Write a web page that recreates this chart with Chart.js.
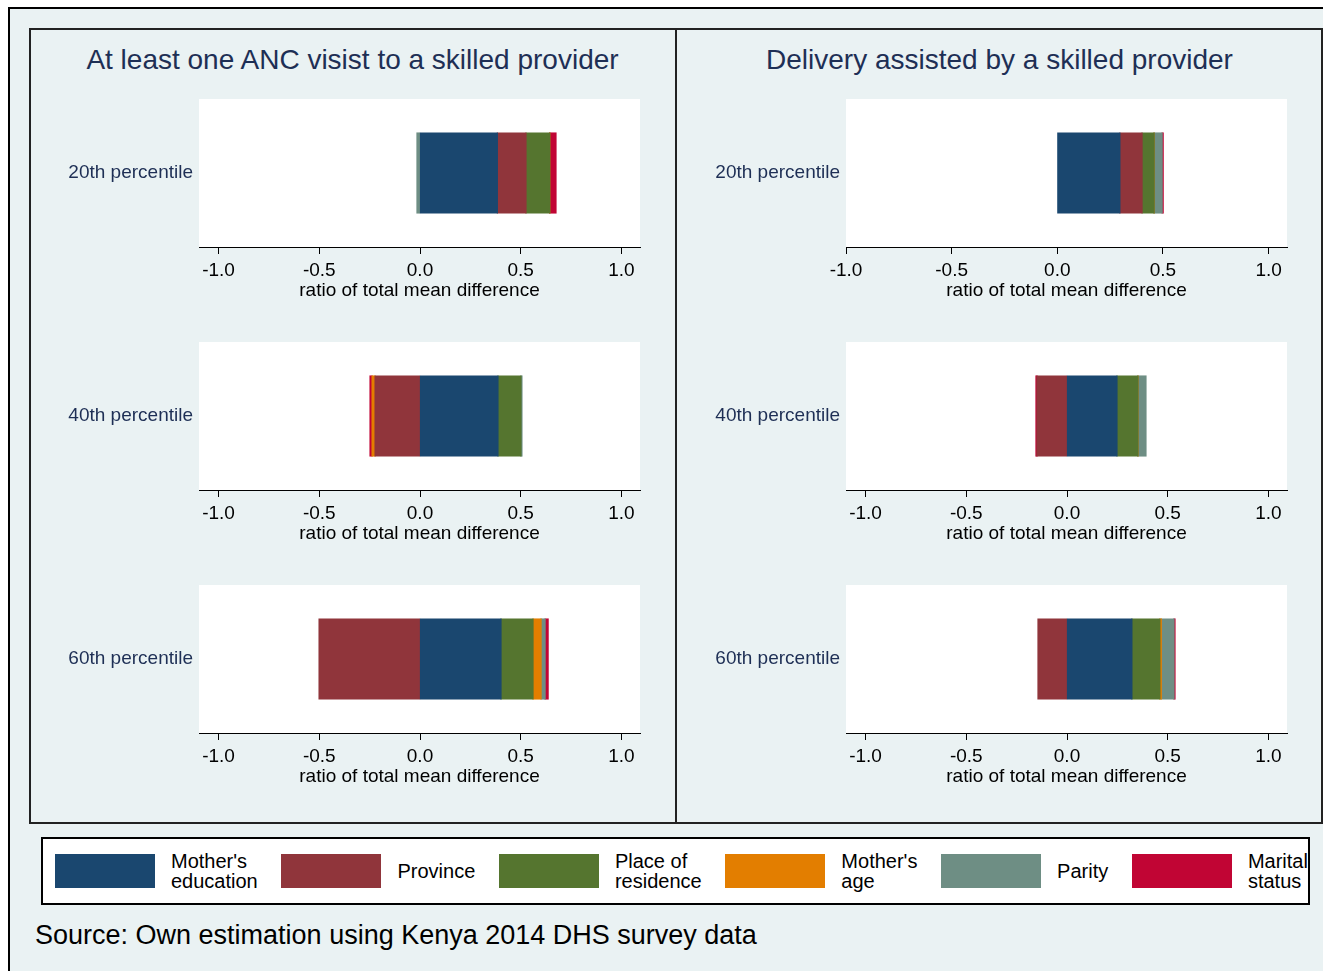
<!DOCTYPE html>
<html>
<head>
<meta charset="utf-8">
<title>Decomposition by percentile</title>
<script src="https://cdn.jsdelivr.net/npm/chart.js@4.4.1/dist/chart.umd.min.js"></script>
<style>
  html, body { margin: 0; padding: 0; }
  body {
    width: 1323px; height: 971px; overflow: hidden; position: relative;
    background: #fff; font-family: "Liberation Sans", Arial, sans-serif;
  }
  .abs { position: absolute; box-sizing: border-box; }
  #outer { left: 8px; top: 7px; width: 1340px; height: 990px; background: #eaf2f3; border: 2px solid #000; }
  #frame { left: 29px; top: 28px; width: 1294px; height: 796px; border: 2px solid #222; }
  #divider { left: 675px; top: 28px; width: 2px; height: 796px; background: #222; }
  .outcome { width: 647px; text-align: center; font-size: 28px; line-height: 32px; color: #1e2f55; }
  #legend {
    left: 41px; top: 837px; width: 1269px; height: 68px; background: #fff; border: 2px solid #000;
    display: flex; justify-content: space-between; align-items: center; padding: 0 0 0 12px;
  }
  .item { display: flex; align-items: center; }
  .swatch { width: 100px; height: 34px; }
  .item span { margin-left: 16px; font-size: 20px; line-height: 20px; color: #000; white-space: nowrap; }
  #source { left: 35px; top: 920px; font-size: 27px; line-height: 30px; color: #000; white-space: nowrap; }
</style>
</head>
<body>
<div id="outer" class="abs"></div>
<div id="frame" class="abs"></div>
<div id="divider" class="abs"></div>
<div id="legend" class="abs"></div>
<div id="source" class="abs"></div>
<script>
// contributing factors, in stacking order
const factors = ["Mother's education", "Province", "Place of residence", "Mother's age", "Parity", "Marital status"];
const factorColors = ['#1a476f', '#90353b', '#55752f', '#e37e00', '#6e8e84', '#c10534'];

const percentiles = ['20th percentile', '40th percentile', '60th percentile'];
const outcomes = ['At least one ANC visist to a skilled provider', 'Delivery assisted by a skilled provider'];

// share of the total mean difference, one row per percentile
const ancShares = [
    [0.384, 0.142, 0.118, 0.000, -0.015, 0.031],
    [0.387, -0.223, 0.114, -0.015, 0.005, -0.010],
    [0.402, -0.501, 0.159, 0.040, 0.020, 0.015]
];
const deliveryShares = [
    [0.296, 0.105, 0.057, 0.000, 0.038, 0.005],
    [0.248, -0.149, 0.104, 0.000, 0.040, -0.005],
    [0.322, -0.144, 0.139, 0.007, 0.063, 0.005]
];

const xTicks = [-1.0, -0.5, 0.0, 0.5, 1.0];
const xTitle = 'ratio of total mean difference';
const sourceNote = 'Source: Own estimation using Kenya 2014 DHS survey data';

const navy = '#1e2f55';
const axisFont = { family: '"Liberation Sans", Arial, sans-serif', size: 19 };

// white plot background
const plotBg = {
    id: 'plotBg',
    beforeDraw(chart) {
        const a = chart.chartArea;
        chart.ctx.save();
        chart.ctx.fillStyle = '#fff';
        chart.ctx.fillRect(a.left, a.top, a.right - a.left, a.bottom - a.top);
        chart.ctx.restore();
    }
};

function makePanel(col, row, shares, range) {
    const canvas = document.createElement('canvas');
    canvas.className = 'abs';
    canvas.width = 630;
    canvas.height = 208;
    canvas.style.left = (35 + col * 647) + 'px';
    canvas.style.top = (95 + row * 243) + 'px';
    document.body.appendChild(canvas);

    new Chart(canvas.getContext('2d'), {
        type: 'bar',
        data: {
            labels: [percentiles[row]],
            datasets: factors.map((f, i) => ({
                label: f,
                data: [shares[row][i]],
                backgroundColor: factorColors[i],
                borderWidth: 0,
                inflateAmount: 0.6,
                barPercentage: 0.54,
                categoryPercentage: 1
            }))
        },
        options: {
            indexAxis: 'y',
            responsive: false,
            animation: false,
            layout: { padding: { top: 4, right: 25, left: 0, bottom: 0 } },
            plugins: { legend: { display: false }, tooltip: { enabled: false } },
            scales: {
                x: {
                    type: 'linear',
                    stacked: true,
                    min: range[0],
                    max: range[1],
                    afterBuildTicks: s => { s.ticks = xTicks.map(v => ({ value: v })); },
                    afterFit: s => { s.height = 56; },
                    grid: { drawOnChartArea: false, drawTicks: true, tickLength: 7, color: '#000', lineWidth: 1 },
                    border: { display: true, color: '#000', width: 1 },
                    ticks: {
                        color: '#000', font: axisFont, padding: 5, autoSkip: false, maxRotation: 0,
                        callback: v => v.toFixed(1)
                    },
                    title: { display: true, text: xTitle, color: '#000', font: axisFont, padding: { top: 0, bottom: 1 } }
                },
                y: {
                    stacked: true,
                    afterFit: s => { s.width = 164; s.paddingTop = 0; s.paddingBottom = 0; },
                    grid: { display: false, drawTicks: false },
                    border: { display: false },
                    ticks: { color: navy, font: axisFont, padding: 6 }
                }
            }
        },
        plugins: [plotBg]
    });
}

// panel titles
outcomes.forEach((t, col) => {
    const d = document.createElement('div');
    d.className = 'abs outcome';
    d.style.left = (29 + col * 647) + 'px';
    d.style.top = '44px';
    d.textContent = t;
    document.body.appendChild(d);
});

const wide = [-1.097, 1.092];
for (let r = 0; r < percentiles.length; r++) {
    makePanel(0, r, ancShares, wide);
    makePanel(1, r, deliveryShares, r === 0 ? [-1.0, 1.087] : wide);
}

// legend built from the factor list
const legend = document.getElementById('legend');
factors.forEach((f, i) => {
    const item = document.createElement('div');
    item.className = 'item';
    const sw = document.createElement('div');
    sw.className = 'swatch';
    sw.style.background = factorColors[i];
    const lab = document.createElement('span');
    lab.innerHTML = f.replace(/ (?=\S+$)/, '<br>');
    item.appendChild(sw);
    item.appendChild(lab);
    legend.appendChild(item);
});

document.getElementById('source').textContent = sourceNote;
</script>
</body>
</html>
